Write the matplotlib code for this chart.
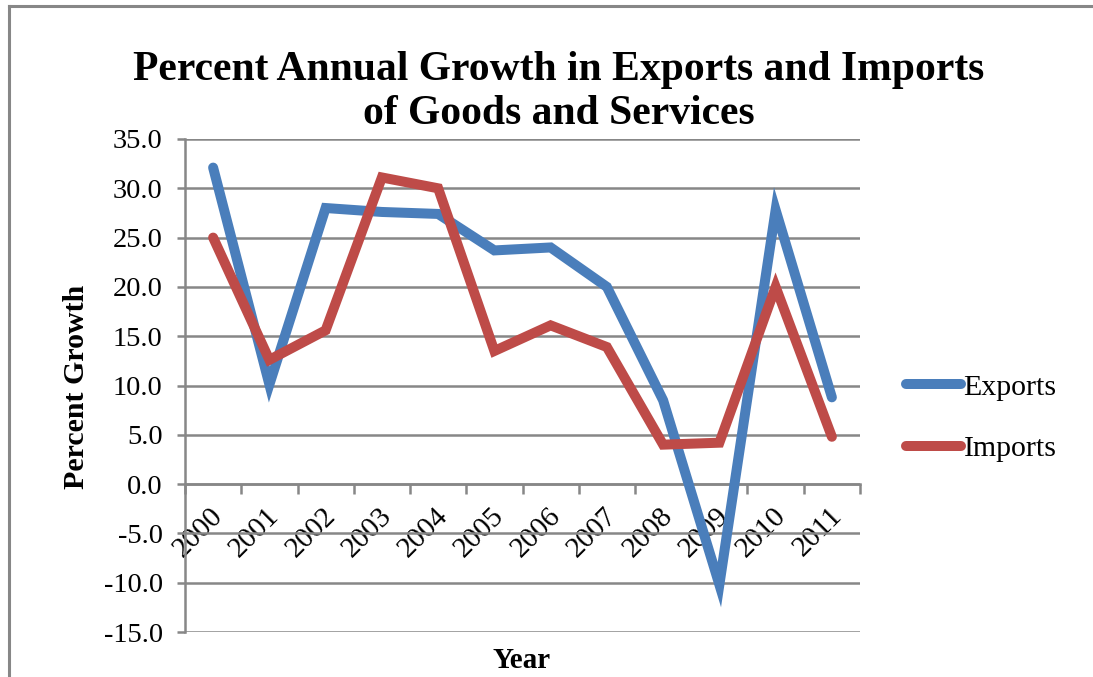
import matplotlib.pyplot as plt
from matplotlib.lines import Line2D
import matplotlib.transforms as mtransforms
import numpy as np

# データ
years = ["2000", "2001", "2002", "2003", "2004", "2005",
         "2006", "2007", "2008", "2009", "2010", "2011"]
exports = [32.1, 10.1, 28.0, 27.6, 27.4, 23.7, 24.0, 20.0, 8.5, -10.2, 27.8, 8.8]
imports = [25.0, 12.6, 15.6, 31.1, 30.0, 13.5, 16.1, 13.9, 4.0, 4.2, 20.0, 4.8]
yticks = np.arange(-15, 36, 5)

plt.rcParams['font.family'] = ['Liberation Serif', 'DejaVu Serif']
grey = '#878787'

fig = plt.figure(figsize=(10.93, 6.77), dpi=100)
ax = fig.add_axes([185/1093, 1-632/677, (860-185)/1093, (632-139)/677])

x = np.arange(len(years))
ax.plot(x, exports, color='#4A7EBB', lw=7.2, solid_capstyle='round',
        solid_joinstyle='miter', label='Exports', zorder=3)
ax.plot(x, imports, color='#BE4B48', lw=7.2, solid_capstyle='round',
        solid_joinstyle='miter', label='Imports', zorder=3)

ax.set_xlim(-0.5, len(years) - 0.5)
ax.set_ylim(-15, 35)
ax.set_yticks(yticks)
ax.set_yticklabels([f"{v:.1f}" for v in yticks], fontsize=20.5)
ax.yaxis.grid(True, color=grey, lw=1.8)
ax.set_axisbelow(True)

# x軸は0の位置
for s in ['top', 'right']:
    ax.spines[s].set_visible(False)
ax.spines['bottom'].set_position(('data', 0))
ax.spines['bottom'].set_color(grey)
ax.spines['bottom'].set_linewidth(1.8)
ax.spines['left'].set_color(grey)
ax.spines['left'].set_linewidth(1.8)

ax.set_xticks(np.arange(-0.5, len(years)), minor=False)
ax.set_xticklabels([])
ax.set_xticks(x, minor=True)
ax.set_xticklabels(years, minor=True, rotation=45, ha='right', va='center',
                   rotation_mode='anchor', fontsize=21)
ax.tick_params(axis='x', which='major', length=7, width=1.8, color=grey, direction='out')
ax.tick_params(axis='x', which='minor', length=0, pad=20)
ax.tick_params(axis='y', length=6, width=1.8, color=grey, pad=10)
# ラベルを少し右へずらす
shift = mtransforms.ScaledTranslation(6/100, 0, fig.dpi_scale_trans)
for lab in ax.get_xticklabels(minor=True):
    lab.set_transform(lab.get_transform() + shift)

fig.text(0.511, 1-80/677, "Percent Annual Growth in Exports and Imports",
         ha='center', va='baseline', fontsize=30, fontweight='bold')
fig.text(0.511, 1-124/677, "of Goods and Services",
         ha='center', va='baseline', fontsize=30, fontweight='bold')
fig.text(76/1093, 1-387/677, "Percent Growth", rotation=90, ha='center', va='center',
         fontsize=21.5, fontweight='bold')
fig.text(522/1093, 1-660/677, "Year", ha='center', va='center',
         fontsize=21, fontweight='bold')

ax.legend(loc='center left', bbox_to_anchor=(891/1093, 1-418/677),
          bbox_transform=fig.transFigure, frameon=False, fontsize=21.5,
          handlelength=1.85, handletextpad=0.08, labelspacing=1.15, borderpad=0)

# 外枠
fig.add_artist(Line2D([9/1093, 1], [1-6/677, 1-6/677], color=grey, lw=2.2,
                      transform=fig.transFigure))
fig.add_artist(Line2D([9/1093, 9/1093], [0, 1-6/677], color=grey, lw=2.2,
                      transform=fig.transFigure))

fig.savefig("out.png", dpi=100)
